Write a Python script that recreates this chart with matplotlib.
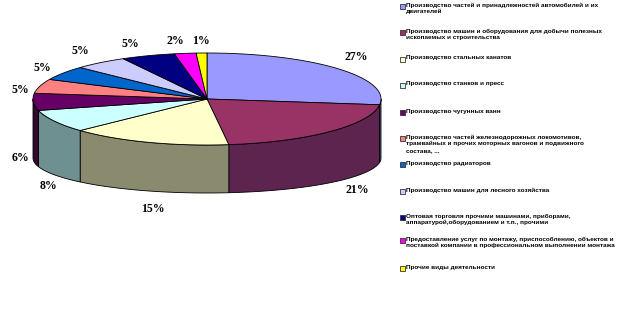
import numpy as np
import matplotlib
matplotlib.use("Agg")
import matplotlib.pyplot as plt
from matplotlib.patches import Polygon

categories = [
    "Производство частей и принадлежностей автомобилей и их\nдвигателей",
    "Производство машин и оборудования для добычи полезных\nископаемых и строительства",
    "Производство стальных канатов",
    "Производство станков и пресс",
    "Производство чугунных ванн",
    "Производство частей железнодорожных локомотивов,\nтрамвайных и прочих моторных вагонов и подвижного\nсостава, ...",
    "Производство радиаторов",
    "Производство машин для лесного хозяйства",
    "Оптовая торговля прочими машинами, приборами,\nаппаратурой,оборудованием и т.п., прочими",
    "Предоставление услуг по монтажу, приспособлению, объектов и\nпоставкой компании в профессиональном выполнении монтажа",
    "Прочие виды деятельности",
]
values = [27, 21, 15, 8, 6, 5, 5, 5, 5, 2, 1]
labels = ["27%", "21%", "15%", "8%", "6%", "5%", "5%", "5%", "5%", "2%", "1%"]
top_colors = ["#9999FF", "#993366", "#FFFFCC", "#CCFFFF", "#660066", "#FF8080",
              "#0066CC", "#CCCCFF", "#000080", "#FF00FF", "#FFFF00"]
side_colors = ["#5c5c99", "#5e2450", "#8a8a6e", "#6f9090", "#2e0a2e", "#994d4d",
               "#003d7a", "#7a7a99", "#00004d", "#990099", "#999900"]

fig = plt.figure(figsize=(6.29, 3.12), dpi=100)
ax = fig.add_axes([0, 0, 1, 1])
ax.set_xlim(0, 629)
ax.set_ylim(312, 0)
ax.axis("off")

cx, cy, rx, ry = 207, 99, 174, 46
bcy, bry = 158, 35

def top_pt(t):
    return cx + rx * np.cos(t), cy - ry * np.sin(t)

def bot_pt(t):
    return cx + rx * np.cos(t), bcy - bry * np.sin(t)

total = float(sum(values))
start = np.pi / 2
angles = []
for v in values:
    end = start - 2 * np.pi * v / total
    angles.append((start, end))
    start = end

# sides (front half: sin t < 0)
for (a0, a1), sc in zip(angles, side_colors):
    # clip to visible range [-pi, 0] in unwrapped angles
    lo, hi = a1, a0
    segs = []
    for off in (0, -2 * np.pi, 2 * np.pi):
        s0 = max(lo + off, -np.pi)
        s1 = min(hi + off, 0)
        if s1 > s0:
            segs.append((s0, s1))
    for s0, s1 in segs:
        ts = np.linspace(s0, s1, 60)
        tx, ty = top_pt(ts)
        bx, by = bot_pt(ts[::-1])
        pts = np.column_stack([np.concatenate([tx, bx]), np.concatenate([ty, by])])
        ax.add_patch(Polygon(pts, closed=True, facecolor=sc, edgecolor="black", lw=0.6))

# tops
for (a0, a1), tc in zip(angles, top_colors):
    ts = np.linspace(a0, a1, 80)
    tx, ty = top_pt(ts)
    pts = np.column_stack([np.concatenate([[cx], tx]), np.concatenate([[cy], ty])])
    ax.add_patch(Polygon(pts, closed=True, facecolor=tc, edgecolor="black", lw=0.6))

# labels
label_pos = [(356, 57), (357, 190), (153, 209), (48, 186), (20, 158), (20, 90),
             (42, 68), (80, 51), (130, 44), (175, 41), (201, 41)]
for (x, y), lab in zip(label_pos, labels):
    ax.text(x, y, lab, ha="center", va="center", fontsize=8.5, fontweight="bold",
            family="Liberation Serif")

# legend
leg_y = [6, 32, 59, 85, 112, 138, 164, 191, 217, 240, 268]
for y, cat, col in zip(leg_y, categories, top_colors):
    ax.add_patch(plt.Rectangle((399.5, y - 2.5), 5, 5, facecolor=col, edgecolor="#333333", lw=0.6))
    ax.text(406, y - 3.5, cat, ha="left", va="top", fontsize=4.6, fontweight="bold",
            family="Liberation Sans", linespacing=1.35)

fig.savefig("out.png", dpi=100)
